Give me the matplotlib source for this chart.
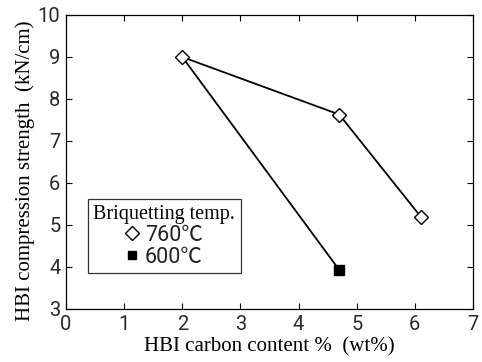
import matplotlib
matplotlib.use("Agg")
import matplotlib.pyplot as plt
from matplotlib.lines import Line2D

x_760 = [2.0, 4.7, 6.1]
y_760 = [9.0, 7.63, 5.2]
x_600 = [2.0, 4.7]
y_600 = [9.0, 3.93]
legend_title = "Briquetting temp."
labels = ["760℃", "600℃"]
xticks = [0, 1, 2, 3, 4, 5, 6, 7]
yticks = [3, 4, 5, 6, 7, 8, 9, 10]

fig = plt.figure(figsize=(4.82, 3.62), dpi=100)
ax = fig.add_axes([66/482, 1-309/362, 407/482, 294/362])

ax.plot(x_600, y_600, color="black", lw=1.3, zorder=2)
ax.plot(x_600[1:], y_600[1:], ls="none", marker="s", ms=6.5, color="black", zorder=3)
ax.plot(x_760, y_760, color="black", lw=1.3, marker="D", ms=7, mfc="white",
        mec="black", mew=1.0, zorder=4)

ax.set_xlim(0, 7)
ax.set_ylim(3, 10)
ax.set_xticks(xticks)
ax.set_yticks(yticks)
ax.tick_params(direction="in", top=True, right=True, length=4, width=0.8,
               labelsize=14.5, pad=4)
for lab in ax.get_xticklabels() + ax.get_yticklabels():
    lab.set_family("Roboto")
    lab.set_fontweight("normal")
    lab.set_color("#2a2a2a")
for s in ax.spines.values():
    s.set_linewidth(0.9)

ax.set_xlabel("HBI carbon content %  (wt%)", family="Liberation Serif", fontsize=15, labelpad=3)
ax.set_ylabel("HBI compression strength  (kN/cm)", family="Liberation Serif", fontsize=15)
ax.yaxis.set_label_coords(-0.076, 0.47)

handles = [
    Line2D([], [], ls="none", marker="D", ms=7.5, mfc="white", mec="black", mew=1.0),
    Line2D([], [], ls="none", marker="s", ms=6, color="black"),
]
leg = ax.legend(handles, labels, title=legend_title, loc="lower left",
                bbox_to_anchor=(0.054, 0.122), borderaxespad=0, frameon=True,
                fancybox=False, edgecolor="black", handlelength=0.6,
                handletextpad=0.3, borderpad=0.25, labelspacing=0.05,
                alignment="center",
                prop={"family": ["Roboto", "Noto Sans CJK JP"], "size": 15.5})
leg.get_frame().set_linewidth(0.9)
leg.get_title().set_family("Liberation Serif")
leg.get_title().set_fontsize(14.5)
for t in leg.get_texts():
    t.set_color("#222222")

fig.savefig("out.png", dpi=100)
